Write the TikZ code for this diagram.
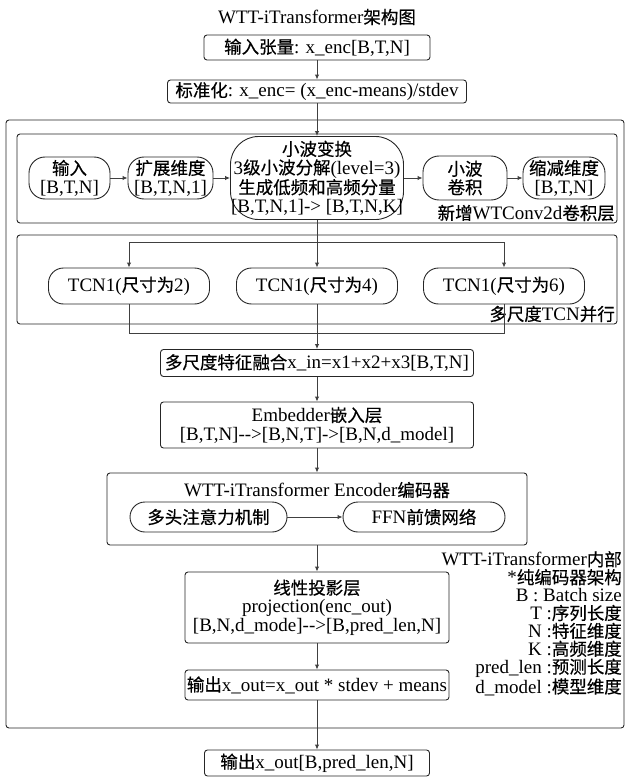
\documentclass[tikz,border=0pt]{standalone}
\usepackage{fontspec}
\setmainfont{Liberation Serif}
\newfontfamily\cjk[Scale=0.92,FakeBold=0.4]{Noto Sans CJK SC}
\newcommand\zh[1]{{\cjk #1}}
\usetikzlibrary{arrows.meta}
\begin{document}
\begin{tikzpicture}[x=1pt,y=-1pt,
  every node/.style={font=\fontsize{19}{18.5}\selectfont, inner sep=0pt, align=center},
  rbox/.style={draw=black!85, line width=0.9pt, rounded corners=3pt},
  pill/.style={draw=black!85, line width=0.9pt, rounded corners=#1},
  frame/.style={draw=black!85, line width=0.9pt, rounded corners=3pt},
  conn/.style={draw=black!75, line width=1pt},
  arr/.style={conn, -{Latex[length=5pt,width=4.5pt]}},
]
\useasboundingbox (0,0) rectangle (625,778);

% frames
\draw[frame] (6,120) rectangle (624,728);
\draw[frame] (17,134) rectangle (617,223);
\draw[frame] (17,235) rectangle (617,324);

% title and top boxes
\node (title) at (317,17) {WTT-iTransformer\zh{架构图}};
\node[rbox, minimum width=226pt, minimum height=25pt] (inp) at (317,47.5) {\zh{输入张量}: x\_enc[B,T,N]};
\node[rbox, minimum width=299pt, minimum height=23pt] (norm) at (317,91.5) {\zh{标准化}: x\_enc= (x\_enc-means)/stdev};

% WTConv2d block
\node[pill=16pt, minimum width=81pt, minimum height=42pt] (a1) at (69.5,178) {\zh{输入}\\\relax[B,T,N]};
\node[pill=16pt, minimum width=85pt, minimum height=42pt] (a2) at (170.5,178) {\zh{扩展维度}\\\relax[B,T,N,1]};
\node[pill=28pt, minimum width=173pt, minimum height=83pt] (a3) at (317,178) {\zh{小波变换}\\3\zh{级小波分解}(level=3)\\\zh{生成低频和高频分量}\\\relax[B,T,N,1]-> [B,T,N,K]};
\node[pill=16pt, minimum width=84pt, minimum height=44pt] (a4) at (465,178) {\zh{小波}\\\zh{卷积}};
\node[pill=16pt, minimum width=82pt, minimum height=42pt] (a5) at (564,178) {\zh{缩减维度}\\\relax[B,T,N]};
\node[anchor=east] (labA) at (615,213) {\zh{新增}WTConv2d\zh{卷积层}};

\draw[arr] (a1) -- (a2);
\draw[arr] (a2) -- (a3);
\draw[arr] (a3) -- (a4);
\draw[arr] (a4) -- (a5);

% TCN block
\node[pill=15pt, minimum width=161pt, minimum height=36pt] (t1) at (129,286) {TCN1(\zh{尺寸为}2)};
\node[pill=15pt, minimum width=161pt, minimum height=36pt] (t2) at (317,286) {TCN1(\zh{尺寸为}4)};
\node[pill=15pt, minimum width=161pt, minimum height=36pt] (t3) at (504,286) {TCN1(\zh{尺寸为}6)};
\node[anchor=east] (labB) at (615,314) {\zh{多尺度}TCN\zh{并行}};
\coordinate (sl) at (129,242);
\coordinate (sr) at (504,242);
\coordinate (ml) at (129,333);
\coordinate (mr) at (504,333);

% lower boxes
\node[rbox, minimum width=313pt, minimum height=27pt] (fuse) at (317,363) {\zh{多尺度特征融合}x\_in=x1+x2+x3[B,T,N]};
\node[rbox, minimum width=313pt, minimum height=46pt] (emb) at (317,425) {Embedder\zh{嵌入层}\\\relax[B,T,N]-{}->[B,N,T]->[B,N,d\_model]};
\node[rbox, minimum width=420pt, minimum height=72pt] (enc) at (317,509) {};
\node (enct) at (317,490) {WTT-iTransformer Encoder\zh{编码器}};
\node[pill=15pt, minimum width=157pt, minimum height=30pt] (mha) at (208.5,517) {\zh{多头注意力机制}};
\node[pill=15pt, minimum width=162pt, minimum height=30pt] (ffn) at (424,517) {FFN\zh{前馈网络}};
\node[rbox, minimum width=264pt, minimum height=71pt] (proj) at (317,607.5) {\zh{线性投影层}\\projection(enc\_out)\\\relax[B,N,d\_mode]-{}->[B,pred\_len,N]};
\node[rbox, minimum width=264pt, minimum height=30pt] (out) at (317,685) {\zh{输出}x\_out=x\_out * stdev + means};
\node[rbox, minimum width=225pt, minimum height=26pt] (final) at (317,763) {\zh{输出}x\_out[B,pred\_len,N]};

% legend
\node[anchor=north east, align=right, font=\fontsize{19}{17.9}\selectfont] (legend) at (622,551)
  {WTT-iTransformer\zh{内部}\\*\zh{纯编码器架构}\\B : Batch size\\T :\zh{序列长度}\\N :\zh{特征维度}\\K :\zh{高频维度}\\pred\_len :\zh{预测长度}\\d\_model :\zh{模型维度}};

% connectors
\draw[arr] (inp) -- (norm);
\draw[arr] (norm) -- (a3);
\draw[arr] (a3) -- (t2);
\draw[conn] (sl) -- (sr);
\draw[arr] (sl) -- (t1);
\draw[arr] (sr) -- (t3);
\draw[conn] (t1) -- (ml) -- (mr) -- (t3);
\draw[arr] (t2) -- (fuse);
\draw[arr] (fuse) -- (emb);
\draw[arr] (emb) -- (enc);
\draw[arr] (mha) -- (ffn);
\draw[arr] (enc) -- (proj);
\draw[arr] (proj) -- (out);
\draw[arr] (out) -- (final);
\end{tikzpicture}
\end{document}
